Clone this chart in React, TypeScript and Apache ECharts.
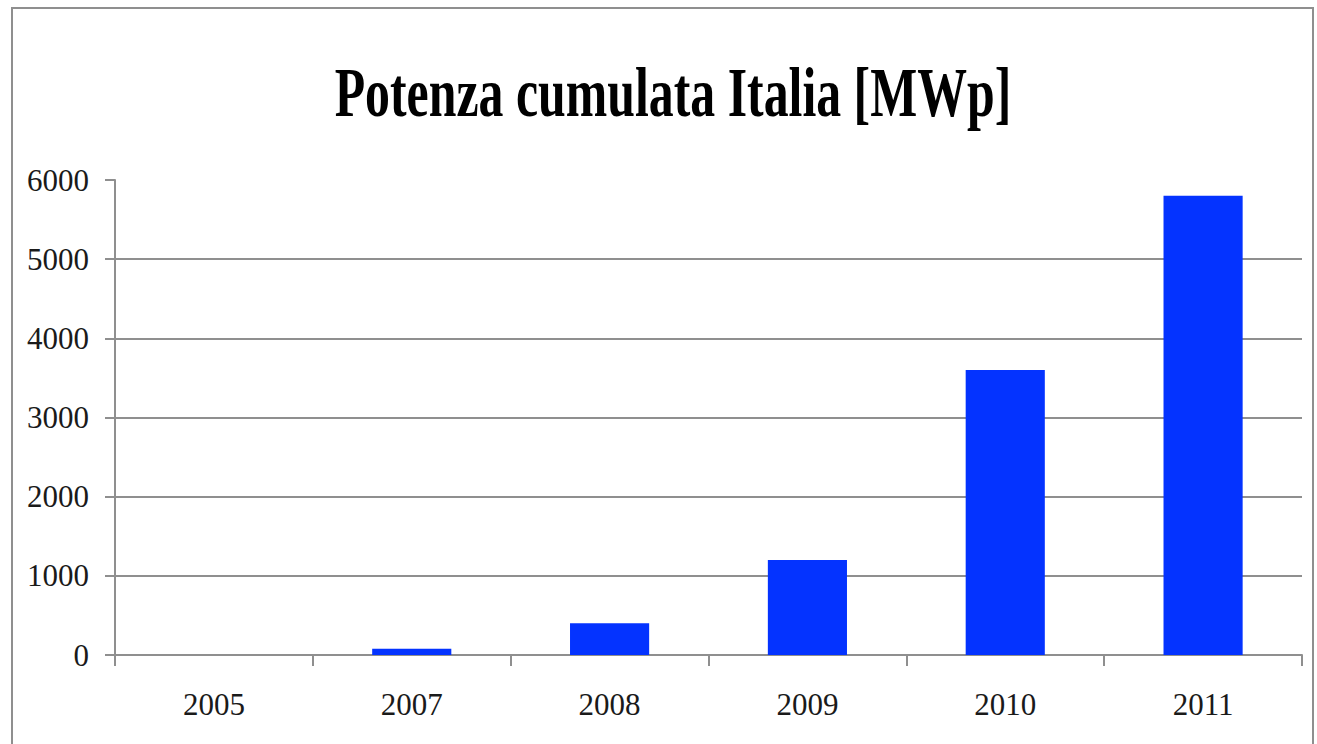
import React, { useEffect, useRef } from "react";
import * as echarts from "echarts";

const years = ["2005", "2007", "2008", "2009", "2010", "2011"];
const potenzaMWp = [0, 80, 400, 1200, 3600, 5800];
const titleText = "Potenza cumulata Italia [MWp]";

export default function App() {
  const ref = useRef<HTMLDivElement>(null);
  useEffect(() => {
    const chart = echarts.init(ref.current!, null, { renderer: "svg" });
    const gray = "#8f8f8f";
    const font = "'Liberation Serif', serif";
    chart.setOption({
      animation: false,
      backgroundColor: "#ffffff",
      graphic: [
        {
          type: "rect",
          shape: { x: 12, y: 8, width: 1301, height: 800 },
          style: { fill: "none", stroke: gray, lineWidth: 2 },
          silent: true,
        },
        {
          type: "text",
          x: 673,
          y: 127,
          scaleX: 0.755,
          scaleY: 1.05,
          style: {
            text: titleText,
            fontFamily: font,
            fontWeight: "bold",
            fontSize: 66,
            fill: "#000",
            align: "center",
            verticalAlign: "bottom",
          },
        },
      ],
      grid: { left: 115, right: 15, top: 180, bottom: 89, containLabel: false },
      xAxis: {
        type: "category",
        data: years,
        boundaryGap: true,
        axisLine: { lineStyle: { color: gray, width: 2 } },
        axisTick: { show: true, length: 11, lineStyle: { color: gray, width: 2 } },
        axisLabel: {
          color: "#1a1a1a",
          fontFamily: font,
          fontSize: 31,
          margin: 34,
        },
      },
      yAxis: {
        type: "value",
        min: 0,
        max: 6000,
        interval: 1000,
        axisLine: { show: true, lineStyle: { color: gray, width: 2 } },
        axisTick: { show: true, length: 10, lineStyle: { color: gray, width: 2 } },
        splitLine: {
          show: true,
          showMaxLine: false,
          lineStyle: { color: gray, width: 2 },
        },
        axisLabel: {
          color: "#1a1a1a",
          fontFamily: font,
          fontSize: 31,
          margin: 26,
          formatter: (v: number) => String(v),
        },
      },
      series: [
        {
          type: "bar",
          data: potenzaMWp,
          barWidth: "40%",
          itemStyle: { color: "#0433ff" },
        },
      ],
    });
    return () => chart.dispose();
  }, []);
  return (
    <div
      ref={ref}
      style={{ position: "fixed", left: 0, top: 0, width: 1317, height: 744 }}
    />
  );
}
